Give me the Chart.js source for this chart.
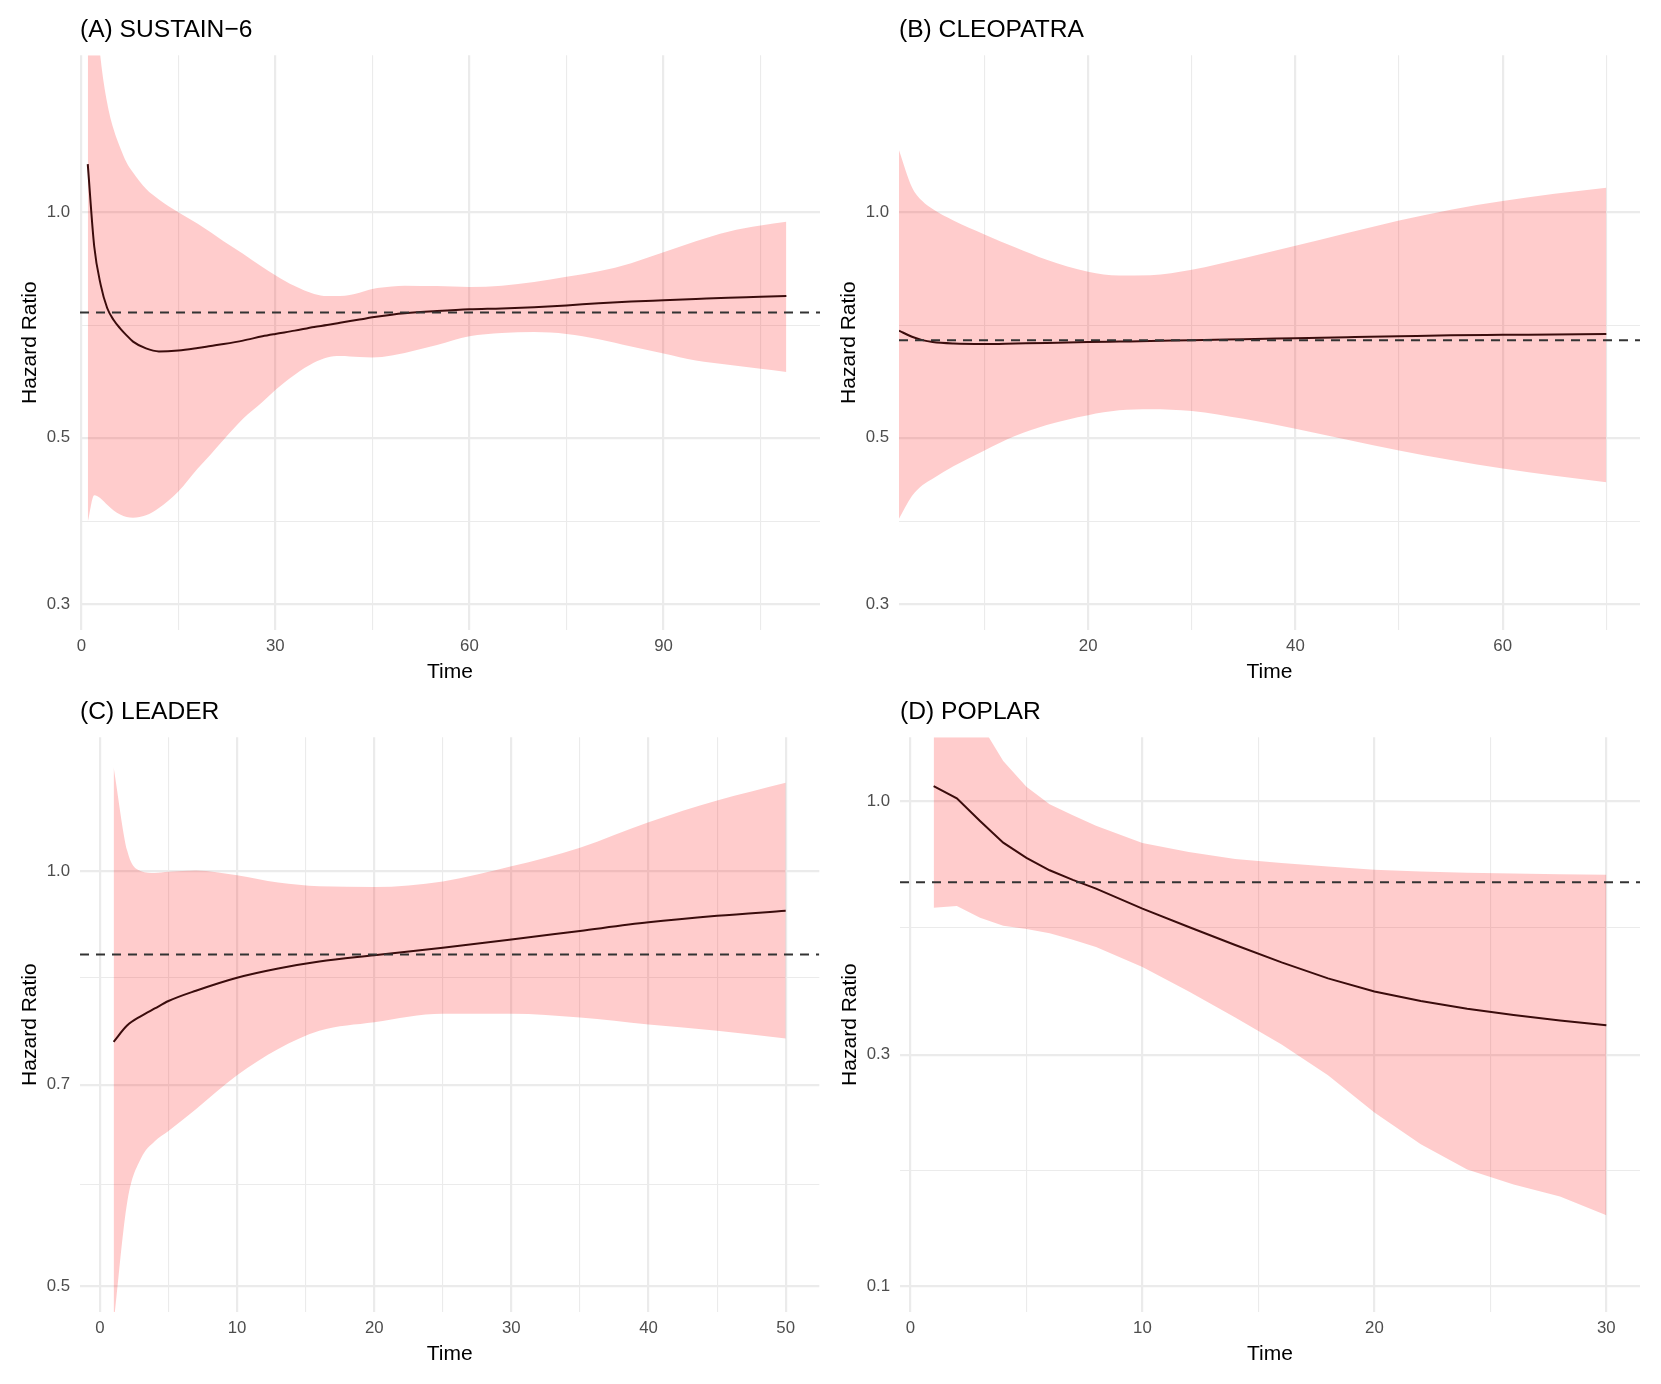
<!DOCTYPE html>
<html><head><meta charset="utf-8">
<script src="https://cdn.jsdelivr.net/npm/chart.js@4.4.1/dist/chart.umd.min.js"></script>
<style>
html,body{margin:0;padding:0;background:#fff;width:1661px;height:1384px;overflow:hidden}
.p{position:absolute}
canvas{display:block}
</style></head><body>
<div class="p" style="left:0px;top:0px"><canvas id="cA" width="830" height="692"></canvas></div>
<div class="p" style="left:819px;top:0px"><canvas id="cB" width="842" height="692"></canvas></div>
<div class="p" style="left:0px;top:681.5px"><canvas id="cC" width="830" height="692"></canvas></div>
<div class="p" style="left:820px;top:681.5px"><canvas id="cD" width="841" height="692"></canvas></div>
<script>
const FONT = "'Liberation Sans', Arial, Helvetica, sans-serif";

// ---------- (A) SUSTAIN-6 ----------
const titleA = "(A) SUSTAIN\u22126";
const timeA  = [1,2,3,4,5,6,7,8,10,12,15,18,20,22,25,28,30,33,36,38,40,43,45,48,50,55,60,65,70,75,80,85,90,95,100,105,109];
const hrA    = [1.159,0.90,0.80,0.745,0.718,0.700,0.685,0.672,0.658,0.652,0.654,0.659,0.663,0.667,0.674,0.683,0.688,0.695,0.703,0.707,0.712,0.719,0.724,0.730,0.733,0.738,0.742,0.744,0.747,0.751,0.756,0.760,0.763,0.766,0.769,0.771,0.773];
const upperA = [3.0,2.0,1.60,1.40,1.29,1.22,1.165,1.13,1.075,1.04,1.0,0.965,0.94,0.915,0.88,0.845,0.824,0.797,0.778,0.773,0.773,0.781,0.79,0.796,0.798,0.797,0.795,0.798,0.807,0.82,0.834,0.855,0.884,0.915,0.942,0.96,0.971];
const lowerA = [0.386,0.419,0.415,0.407,0.400,0.395,0.392,0.391,0.394,0.403,0.424,0.455,0.475,0.497,0.53,0.558,0.579,0.607,0.630,0.640,0.643,0.641,0.640,0.644,0.649,0.665,0.683,0.690,0.692,0.688,0.677,0.662,0.648,0.634,0.626,0.618,0.612];
const refA = 0.735;
const xMajorA = [0,30,60,90], xMinorA = [15,45,75,105];
const yMajorA = [0.3,0.5,1.0], yMinorA = [0.387,0.707];
const xRangeA = [-0.2,114.2], yRangeA = [0.277,1.62];

// ---------- (B) CLEOPATRA ----------
const titleB = "(B) CLEOPATRA";
const timeB  = [1.75,3,4,5,7,10,13,16,20,23,26,30,35,40,45,50,55,60,65,70];
const hrB    = [0.695,0.682,0.675,0.671,0.668,0.667,0.668,0.669,0.671,0.672,0.673,0.675,0.677,0.679,0.681,0.683,0.685,0.686,0.687,0.688];
const upperB = [1.21,1.08,1.035,1.01,0.975,0.934,0.897,0.864,0.833,0.823,0.824,0.838,0.868,0.902,0.938,0.975,1.008,1.035,1.058,1.078];
const lowerB = [0.39,0.418,0.432,0.441,0.458,0.481,0.503,0.52,0.536,0.544,0.546,0.543,0.53,0.514,0.497,0.481,0.467,0.455,0.445,0.436];
const refB = 0.675;
const xMajorB = [20,40,60], xMinorB = [10,30,50,70];
const yMajorB = [0.3,0.5,1.0], yMinorB = [0.387,0.707];
const xRangeB = [1.75,73.25], yRangeB = [0.277,1.62];

// ---------- (C) LEADER ----------
const titleC = "(C) LEADER";
const timeC  = [1,2,3,4,5,7,10,13,16,20,25,30,35,40,45,50];
const hrC    = [0.752,0.773,0.785,0.795,0.805,0.819,0.837,0.850,0.860,0.869,0.880,0.892,0.905,0.918,0.928,0.936];
const upperC = [1.19,1.034,1.0,0.997,0.999,1.001,0.993,0.981,0.975,0.974,0.983,1.008,1.04,1.085,1.125,1.159];
const lowerC = [0.47,0.576,0.619,0.637,0.648,0.672,0.711,0.743,0.766,0.777,0.788,0.788,0.783,0.774,0.766,0.756];
const refC = 0.87;
const xMajorC = [0,10,20,30,40,50], xMinorC = [5,15,25,35,45];
const yMajorC = [0.5,0.7,1.0], yMinorC = [0.592,0.837];
const xRangeC = [-1.45,52.45], yRangeC = [0.4789,1.2506];

// ---------- (D) POPLAR ----------
const titleD = "(D) POPLAR";
const timeD  = [1,2,3,4,5,6,7,8,10,12,14,16,18,20,22,24,26,28,30];
const hrD    = [1.074,1.013,0.91,0.821,0.764,0.72,0.688,0.66,0.60,0.55,0.505,0.465,0.431,0.405,0.387,0.373,0.362,0.353,0.345];
const upperD = [2.0,1.8,1.45,1.21,1.07,0.985,0.935,0.89,0.82,0.785,0.76,0.745,0.733,0.722,0.716,0.712,0.709,0.707,0.705];
const lowerD = [0.603,0.608,0.575,0.553,0.545,0.534,0.518,0.50,0.455,0.405,0.358,0.315,0.272,0.228,0.196,0.174,0.162,0.153,0.14];
const refD = 0.68;
const xMajorD = [0,10,20,30], xMinorD = [5,15,25];
const yMajorD = [0.1,0.3,1.0], yMinorD = [0.173,0.548];
const xRangeD = [-0.45,31.45], yRangeD = [0.0884,1.3544];

function tickList(major, minor){
  return major.map(v=>({value:v,isMinor:false}))
    .concat(minor.map(v=>({value:v,isMinor:true})))
    .sort((a,b)=>a.value-b.value);
}

const refLine = {
  id:'refLine',
  afterDatasetsDraw(chart, args, opts){
    const ctx = chart.ctx, a = chart.chartArea;
    const y = chart.scales.y.getPixelForValue(opts.value);
    ctx.save();
    ctx.beginPath(); ctx.rect(a.left, a.top, a.right-a.left, a.bottom-a.top); ctx.clip();
    ctx.setLineDash([9,7]); ctx.lineWidth = 2; ctx.strokeStyle = '#333333';
    ctx.beginPath(); ctx.moveTo(a.left, y); ctx.lineTo(a.right, y); ctx.stroke();
    ctx.restore();
  }
};

function makePanel(id, p){
  const pts = arr => p.t.map((t,i)=>({x:t, y:arr[i]}));
  const gridLW = c => (c.tick && c.tick.isMinor) ? 1.1 : 2.2;
  const curve = p.linear ? {tension:0} : {cubicInterpolationMode:'monotone'};
  new Chart(document.getElementById(id), {
    type:'line',
    data:{datasets:[
      Object.assign({data:pts(p.hr), borderColor:'#3b0c0c', borderWidth:2, pointRadius:0, fill:false}, curve),
      Object.assign({data:pts(p.up), borderColor:'rgba(0,0,0,0)', borderWidth:0, pointRadius:0, fill:'+1', backgroundColor:'rgba(255,0,0,0.2)'}, curve),
      Object.assign({data:pts(p.lo), borderColor:'rgba(0,0,0,0)', borderWidth:0, pointRadius:0, fill:false}, curve)
    ]},
    options:{
      responsive:false, animation:false, events:[],
      layout:{padding:{left:0, right:p.padR, top:0, bottom:0}},
      plugins:{
        legend:{display:false}, tooltip:{enabled:false},
        title:{display:true, text:p.title, align:'start', fullSize:false, color:'#000000',
               font:{family:FONT, size:24.6, weight:'normal'}, padding:{top:15.2, bottom:10.5}},
        refLine:{value:p.ref}
      },
      scales:{
        x:{type:'linear', min:p.xr[0], max:p.xr[1], bounds:'data',
           afterBuildTicks:s=>{ s.ticks = tickList(p.xMajor, p.xMinor); },
           afterFit:s=>{ s.height = 62; },
           grid:{color:'#EBEBEB', lineWidth:gridLW, drawTicks:false},
           border:{display:false},
           ticks:{autoSkip:false, maxRotation:0, minRotation:0, padding:6.5, color:'#4D4D4D',
                  font:{family:FONT, size:16.8},
                  callback:(v,i,ts)=> ts[i].isMinor ? '' : String(v)},
           title:{display:true, text:'Time', color:'#000000', font:{family:FONT, size:21}, padding:{top:0, bottom:7.4}}
        },
        y:{type:'logarithmic', min:p.yr[0], max:p.yr[1], bounds:'data',
           afterBuildTicks:s=>{ s.ticks = tickList(p.yMajor, p.yMinor); },
           afterFit:s=>{ s.width = 80; },
           grid:{color:'#EBEBEB', lineWidth:gridLW, drawTicks:false},
           border:{display:false},
           ticks:{autoSkip:false, padding:10, color:'#4D4D4D',
                  font:{family:FONT, size:16.8},
                  callback:(v,i,ts)=> ts[i].isMinor ? '' : Number(v).toFixed(1)},
           title:{display:true, text:'Hazard Ratio', color:'#000000', font:{family:FONT, size:21}, padding:{top:17.4, bottom:0}}
        }
      }
    },
    plugins:[refLine]
  });
}

makePanel('cA', {title:titleA, t:timeA, hr:hrA, up:upperA, lo:lowerA, ref:refA, xMajor:xMajorA, xMinor:xMinorA, yMajor:yMajorA, yMinor:yMinorA, xr:xRangeA, yr:yRangeA, padR:10});
makePanel('cB', {title:titleB, t:timeB, hr:hrB, up:upperB, lo:lowerB, ref:refB, xMajor:xMajorB, xMinor:xMinorB, yMajor:yMajorB, yMinor:yMinorB, xr:xRangeB, yr:yRangeB, padR:21});
makePanel('cC', {title:titleC, t:timeC, hr:hrC, up:upperC, lo:lowerC, ref:refC, xMajor:xMajorC, xMinor:xMinorC, yMajor:yMajorC, yMinor:yMinorC, xr:xRangeC, yr:yRangeC, padR:10.7});
makePanel('cD', {title:titleD, t:timeD, hr:hrD, up:upperD, lo:lowerD, ref:refD, xMajor:xMajorD, xMinor:xMinorD, yMajor:yMajorD, yMinor:yMinorD, xr:xRangeD, yr:yRangeD, padR:21, linear:true});
</script>
</body></html>
